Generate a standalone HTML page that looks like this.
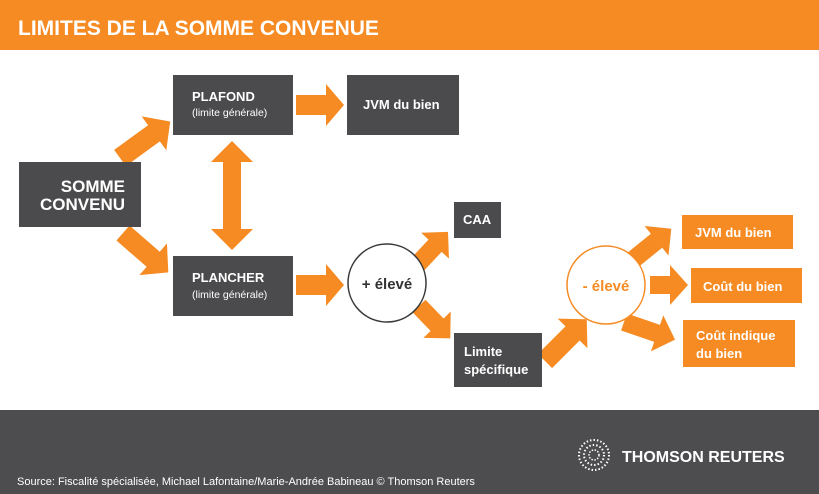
<!DOCTYPE html>
<html><head><meta charset="utf-8"><style>
html,body{margin:0;padding:0;width:819px;height:494px;overflow:hidden;background:#fff;font-family:"Liberation Sans",sans-serif}
</style></head><body>
<svg width="819" height="494" viewBox="0 0 819 494" xmlns="http://www.w3.org/2000/svg" font-family="Liberation Sans, sans-serif">
<rect x="0" y="0" width="819" height="50" fill="#f58b22"/>
<text x="18" y="35" fill="#fff" font-size="21" font-weight="bold">LIMITES DE LA SOMME CONVENUE</text>

<g fill="#f58b22">
<g transform="translate(120,158) rotate(-36)"><polygon points="0,-10 42,-10 42,-21 62,0 42,21 42,10 0,10"/></g>
<g transform="translate(123,233) rotate(41)"><polygon points="0,-10 40,-10 40,-21 60,0 40,21 40,10 0,10"/></g>
<polygon points="296,95 326,95 326,84 344,105 326,126 326,115 296,115"/>
<polygon points="296,275 326,275 326,264 344,285 326,306 326,295 296,295"/>
<polygon points="232,141 253,162 241,162 241,229 253,229 232,250 211,229 223,229 223,162 211,162"/>
<g transform="translate(418,264) rotate(-47)"><polygon points="0,-9 25,-9 25,-19 44,0 25,19 25,9 0,9"/></g>
<g transform="translate(419,306) rotate(46)"><polygon points="0,-9 26,-9 26,-19 45,0 26,19 26,9 0,9"/></g>
<g transform="translate(545,361) rotate(-45)"><polygon points="0,-10 39,-10 39,-21 59,0 39,21 39,10 0,10"/></g>
<g transform="translate(634,259) rotate(-39)"><polygon points="0,-9 29,-9 29,-19 48,0 29,19 29,9 0,9"/></g>
<polygon points="650,276 670,276 670,265 688,285 670,305 670,294 650,294"/>
<g transform="translate(624,322) rotate(19)"><polygon points="0,-9 35,-9 35,-19 54,0 35,19 35,9 0,9"/></g>
</g>

<g fill="#4b4b4d">
<rect x="19" y="162" width="122" height="65"/>
<rect x="173" y="75" width="120" height="60"/>
<rect x="347" y="75" width="112" height="60"/>
<rect x="173" y="256" width="120" height="60"/>
<rect x="454" y="202" width="47" height="36"/>
<rect x="454" y="333" width="88" height="54"/>
</g>
<g fill="#f58b22">
<rect x="682" y="215" width="111" height="34"/>
<rect x="691" y="268" width="111" height="35"/>
<rect x="683" y="320" width="112" height="47"/>
</g>
<circle cx="387" cy="283" r="39" fill="#fff" stroke="#3a3a3a" stroke-width="1.5"/>
<circle cx="606" cy="285" r="39" fill="#fff" stroke="#f58b22" stroke-width="1.5"/>

<g fill="#fff" font-weight="bold">
<text x="125" y="192" font-size="17" text-anchor="end">SOMME</text>
<text x="125" y="210" font-size="17" text-anchor="end">CONVENU</text>
<text x="192" y="101" font-size="13">PLAFOND</text>
<text x="192" y="282" font-size="13">PLANCHER</text>
<text x="363" y="109" font-size="13">JVM du bien</text>
<text x="463" y="224" font-size="13">CAA</text>
<text x="464" y="356" font-size="13">Limite</text>
<text x="464" y="374" font-size="13">spécifique</text>
<text x="695" y="237" font-size="13">JVM du bien</text>
<text x="703" y="291" font-size="13">Coût du bien</text>
<text x="696" y="340" font-size="13">Coût indique</text>
<text x="696" y="358" font-size="13">du bien</text>
</g>
<g fill="#fff" font-size="10.5">
<text x="192" y="116">(limite générale)</text>
<text x="192" y="298">(limite générale)</text>
</g>
<text x="387" y="289" font-size="15" font-weight="bold" fill="#333" text-anchor="middle">+ élevé</text>
<text x="606" y="291" font-size="15" font-weight="bold" fill="#f58b22" text-anchor="middle">- élevé</text>

<rect x="0" y="410" width="819" height="84" fill="#4d4d4f"/>
<g fill="#fff">
<circle cx="594" cy="455" r="15" fill="none" stroke="#fff" stroke-width="2" stroke-dasharray="1.5 2"/>
<circle cx="594" cy="455" r="10" fill="none" stroke="#fff" stroke-width="2" stroke-dasharray="1.5 2"/>
<circle cx="594" cy="455" r="5" fill="none" stroke="#fff" stroke-width="1.5" stroke-dasharray="1.5 1.5"/>
<text x="622" y="462" font-size="16" font-weight="bold">THOMSON REUTERS</text>
<text x="17" y="485" font-size="11">Source: Fiscalité spécialisée, Michael Lafontaine/Marie-Andrée Babineau © Thomson Reuters</text>
</g>
</svg>
</body></html>
